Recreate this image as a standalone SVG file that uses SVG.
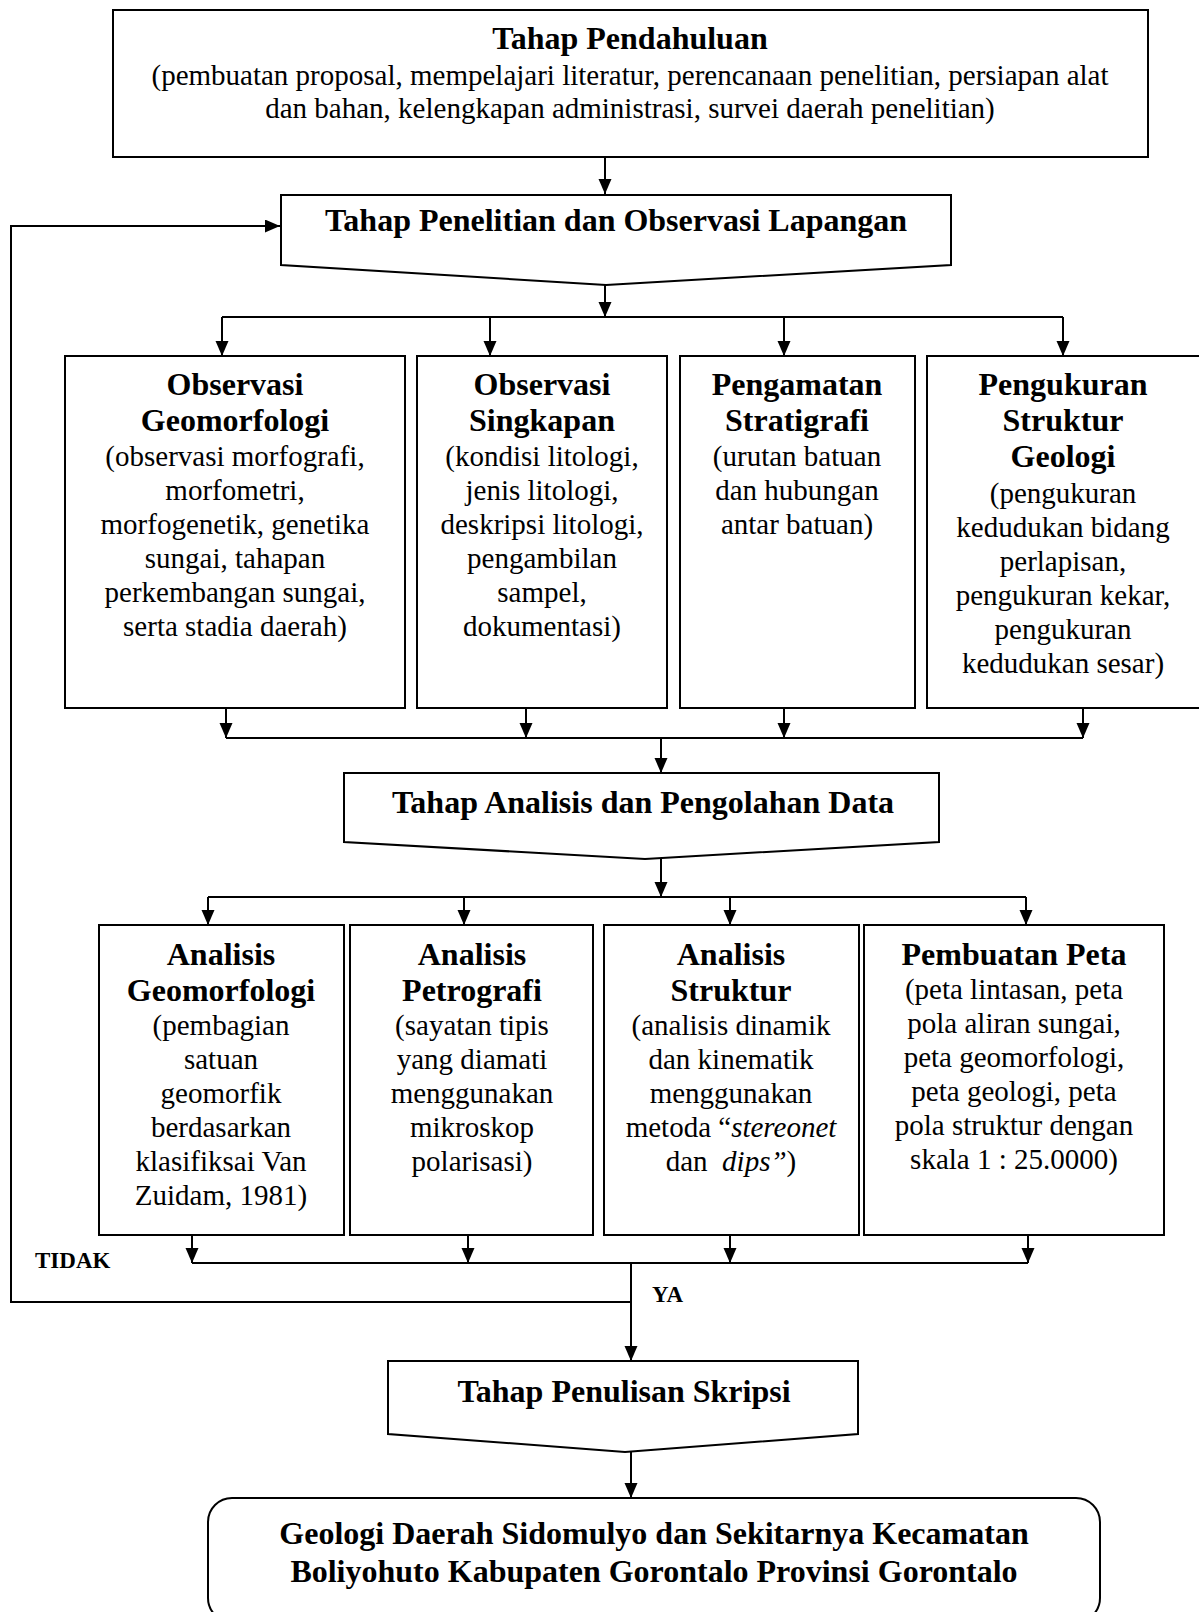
<svg xmlns="http://www.w3.org/2000/svg" width="1199" height="1612" viewBox="0 0 1199 1612">
<style>
.box{fill:#fff;stroke:#000;stroke-width:2}
.ln{fill:none;stroke:#000;stroke-width:2}
text{font-family:"Liberation Serif","Times New Roman",serif;fill:#000;text-anchor:middle}
.t{font-size:32px;font-weight:bold}
.b{font-size:29px}
.lbl{font-size:23px;font-weight:bold;text-anchor:start}
.i{font-style:italic}
</style>
<defs>
<marker id="ah" markerUnits="userSpaceOnUse" markerWidth="16" markerHeight="14" refX="15" refY="6.5" orient="auto">
<path d="M0,0 L15,6.5 L0,13 z" fill="#000"/>
</marker>
</defs>
<rect width="1199" height="1612" fill="#fff"/>

<g id="connectors">
<line class="ln" x1="605" y1="157" x2="605" y2="194" marker-end="url(#ah)"/>
<polyline class="ln" points="631,1302 11,1302 11,226 280,226" marker-end="url(#ah)"/>
<line class="ln" x1="605" y1="285" x2="605" y2="317" marker-end="url(#ah)"/>
<line class="ln" x1="222" y1="317" x2="1063" y2="317"/>
<line class="ln" x1="222" y1="317" x2="222" y2="356" marker-end="url(#ah)"/>
<line class="ln" x1="490" y1="317" x2="490" y2="356" marker-end="url(#ah)"/>
<line class="ln" x1="784" y1="317" x2="784" y2="356" marker-end="url(#ah)"/>
<line class="ln" x1="1063" y1="317" x2="1063" y2="356" marker-end="url(#ah)"/>
<line class="ln" x1="226" y1="708" x2="226" y2="738" marker-end="url(#ah)"/>
<line class="ln" x1="526" y1="708" x2="526" y2="738" marker-end="url(#ah)"/>
<line class="ln" x1="784" y1="708" x2="784" y2="738" marker-end="url(#ah)"/>
<line class="ln" x1="1083" y1="708" x2="1083" y2="738" marker-end="url(#ah)"/>
<line class="ln" x1="226" y1="738" x2="1083" y2="738"/>
<line class="ln" x1="661" y1="738" x2="661" y2="773" marker-end="url(#ah)"/>
<line class="ln" x1="661" y1="858" x2="661" y2="897" marker-end="url(#ah)"/>
<line class="ln" x1="208" y1="897" x2="1026" y2="897"/>
<line class="ln" x1="208" y1="897" x2="208" y2="925" marker-end="url(#ah)"/>
<line class="ln" x1="464" y1="897" x2="464" y2="925" marker-end="url(#ah)"/>
<line class="ln" x1="730" y1="897" x2="730" y2="925" marker-end="url(#ah)"/>
<line class="ln" x1="1026" y1="897" x2="1026" y2="925" marker-end="url(#ah)"/>
<line class="ln" x1="192" y1="1235" x2="192" y2="1263" marker-end="url(#ah)"/>
<line class="ln" x1="468" y1="1235" x2="468" y2="1263" marker-end="url(#ah)"/>
<line class="ln" x1="730" y1="1235" x2="730" y2="1263" marker-end="url(#ah)"/>
<line class="ln" x1="1028" y1="1235" x2="1028" y2="1263" marker-end="url(#ah)"/>
<line class="ln" x1="192" y1="1263" x2="1028" y2="1263"/>
<line class="ln" x1="631" y1="1263" x2="631" y2="1361" marker-end="url(#ah)"/>
<line class="ln" x1="631" y1="1452" x2="631" y2="1498" marker-end="url(#ah)"/>
<text class="lbl" x="35" y="1268">TIDAK</text>
<text class="lbl" x="652" y="1302">YA</text>
</g>

<g id="n-pendahuluan">
<rect class="box" x="113" y="10" width="1035" height="147"/>
<text class="t" x="630" y="49">Tahap Pendahuluan</text>
<text class="b" x="630" y="85">(pembuatan proposal, mempelajari literatur, perencanaan penelitian, persiapan alat</text>
<text class="b" x="630" y="118">dan bahan, kelengkapan administrasi, survei daerah penelitian)</text>
</g>

<g id="n-penelitian">
<polygon class="box" points="281,195 951,195 951,265 606,285 281,265"/>
<text class="t" x="616" y="231">Tahap Penelitian dan Observasi Lapangan</text>
</g>

<g id="n-geomorfologi">
<rect class="box" x="65" y="356" width="340" height="352"/>
<text class="t" x="235" y="395">Observasi</text>
<text class="t" x="235" y="431">Geomorfologi</text>
<text class="b" x="235" y="466">(observasi morfografi,</text>
<text class="b" x="235" y="500">morfometri,</text>
<text class="b" x="235" y="534">morfogenetik, genetika</text>
<text class="b" x="235" y="568">sungai, tahapan</text>
<text class="b" x="235" y="602">perkembangan sungai,</text>
<text class="b" x="235" y="636">serta stadia daerah)</text>
</g>

<g id="n-singkapan">
<rect class="box" x="417" y="356" width="250" height="352"/>
<text class="t" x="542" y="395">Observasi</text>
<text class="t" x="542" y="431">Singkapan</text>
<text class="b" x="542" y="466">(kondisi litologi,</text>
<text class="b" x="542" y="500">jenis litologi,</text>
<text class="b" x="542" y="534">deskripsi litologi,</text>
<text class="b" x="542" y="568">pengambilan</text>
<text class="b" x="542" y="602">sampel,</text>
<text class="b" x="542" y="636">dokumentasi)</text>
</g>

<g id="n-stratigrafi">
<rect class="box" x="680" y="356" width="235" height="352"/>
<text class="t" x="797" y="395">Pengamatan</text>
<text class="t" x="797" y="431">Stratigrafi</text>
<text class="b" x="797" y="466">(urutan batuan</text>
<text class="b" x="797" y="500">dan hubungan</text>
<text class="b" x="797" y="534">antar batuan)</text>
</g>

<g id="n-struktur">
<rect class="box" x="927" y="356" width="275" height="352"/>
<text class="t" x="1063" y="395">Pengukuran</text>
<text class="t" x="1063" y="431">Struktur</text>
<text class="t" x="1063" y="467">Geologi</text>
<text class="b" x="1063" y="503">(pengukuran</text>
<text class="b" x="1063" y="537">kedudukan bidang</text>
<text class="b" x="1063" y="571">perlapisan,</text>
<text class="b" x="1063" y="605">pengukuran kekar,</text>
<text class="b" x="1063" y="639">pengukuran</text>
<text class="b" x="1063" y="673">kedudukan sesar)</text>
</g>

<g id="n-analisis">
<polygon class="box" points="344,773 939,773 939,842 645,859 344,842"/>
<text class="t" x="643" y="813">Tahap Analisis dan Pengolahan Data</text>
</g>

<g id="n-an-geomorfologi">
<rect class="box" x="99" y="925" width="245" height="310"/>
<text class="t" x="221" y="965">Analisis</text>
<text class="t" x="221" y="1001">Geomorfologi</text>
<text class="b" x="221" y="1035">(pembagian</text>
<text class="b" x="221" y="1069">satuan</text>
<text class="b" x="221" y="1103">geomorfik</text>
<text class="b" x="221" y="1137">berdasarkan</text>
<text class="b" x="221" y="1171">klasifiksai Van</text>
<text class="b" x="221" y="1205">Zuidam, 1981)</text>
</g>

<g id="n-an-petrografi">
<rect class="box" x="350" y="925" width="243" height="310"/>
<text class="t" x="472" y="965">Analisis</text>
<text class="t" x="472" y="1001">Petrografi</text>
<text class="b" x="472" y="1035">(sayatan tipis</text>
<text class="b" x="472" y="1069">yang diamati</text>
<text class="b" x="472" y="1103">menggunakan</text>
<text class="b" x="472" y="1137">mikroskop</text>
<text class="b" x="472" y="1171">polarisasi)</text>
</g>

<g id="n-an-struktur">
<rect class="box" x="604" y="925" width="255" height="310"/>
<text class="t" x="731" y="965">Analisis</text>
<text class="t" x="731" y="1001">Struktur</text>
<text class="b" x="731" y="1035">(analisis dinamik</text>
<text class="b" x="731" y="1069">dan kinematik</text>
<text class="b" x="731" y="1103">menggunakan</text>
<text class="b" x="731" y="1137">metoda “<tspan class="i">stereonet</tspan></text>
<text class="b" x="731" y="1171">dan&#160; <tspan class="i">dips”</tspan>)</text>
</g>

<g id="n-peta">
<rect class="box" x="864" y="925" width="300" height="310"/>
<text class="t" x="1014" y="965">Pembuatan Peta</text>
<text class="b" x="1014" y="999">(peta lintasan, peta</text>
<text class="b" x="1014" y="1033">pola aliran sungai,</text>
<text class="b" x="1014" y="1067">peta geomorfologi,</text>
<text class="b" x="1014" y="1101">peta geologi, peta</text>
<text class="b" x="1014" y="1135">pola struktur dengan</text>
<text class="b" x="1014" y="1169">skala 1 : 25.0000)</text>
</g>

<g id="n-skripsi">
<polygon class="box" points="388,1361 858,1361 858,1434 625,1452 388,1434"/>
<text class="t" x="624" y="1402">Tahap Penulisan Skripsi</text>
</g>

<g id="n-hasil">
<rect class="box" x="208" y="1498" width="892" height="124" rx="24" ry="24"/>
<text class="t" x="654" y="1544">Geologi Daerah Sidomulyo dan Sekitarnya Kecamatan</text>
<text class="t" x="654" y="1582">Boliyohuto Kabupaten Gorontalo Provinsi Gorontalo</text>
</g>
</svg>
